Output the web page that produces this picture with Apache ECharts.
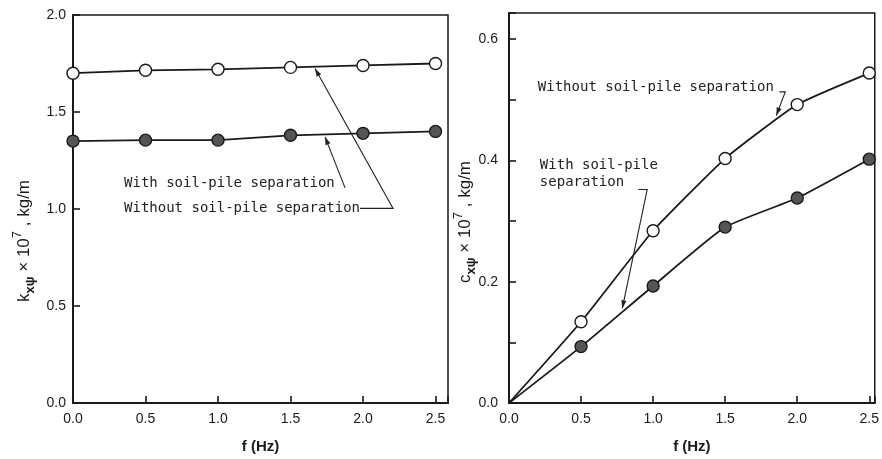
<!DOCTYPE html>
<html>
<head>
<meta charset="utf-8">
<script src="https://cdn.jsdelivr.net/npm/echarts@6/dist/echarts.min.js"></script>
<style>
  html, body { margin: 0; padding: 0; background: #fff; }
  #chart { width: 882px; height: 459px; }
</style>
</head>
<body>
<div id="chart"></div>
<script>
// Frequency (Hz) at which the impedances were evaluated
const freq = [0, 0.5, 1.0, 1.5, 2.0, 2.5];

// Cross stiffness k_xψ × 10^7 (kg/m)
const stiffWithout = [1.70, 1.715, 1.72, 1.73, 1.74, 1.75];
const stiffWith = [1.35, 1.355, 1.355, 1.38, 1.39, 1.40];

// Cross damping c_xψ × 10^7 (kg/m)
const dampWithout = [0, 0.134, 0.284, 0.403, 0.492, 0.544];
const dampWith = [0, 0.093, 0.193, 0.290, 0.338, 0.402];

const labelWith = 'With soil-pile separation';
const labelWithout = 'Without soil-pile separation';

const INK = '#1a1a1a';
const TICK_FONT = 'Liberation Sans, Arial, sans-serif';
const NOTE_FONT = '14px "DejaVu Sans Mono", monospace';

function fmtTick(step, top) {
  return function (v) {
    const k = v / step;
    if (Math.abs(k - Math.round(k)) > 1e-6 || v > top + 1e-9) return '';
    return v.toFixed(1);
  };
}

function pairs(xs, ys, hideFirst) {
  return xs.map(function (x, i) {
    const item = { value: [x, ys[i]] };
    if (hideFirst && i === 0) item.symbol = 'none';
    return item;
  });
}

const openMarker = { color: '#fff', borderColor: INK, borderWidth: 1.4 };
const filledMarker = { color: '#555', borderColor: INK, borderWidth: 1.4 };

function axisCommon() {
  return {
    axisLine: { show: true, onZero: false, lineStyle: { color: INK, width: 2 } },
    axisTick: { show: true, inside: true, length: 7, lineStyle: { color: INK, width: 1.6 } },
    splitLine: { show: false },
    axisLabel: { color: INK, fontSize: 14, fontFamily: TICK_FONT }
  };
}

const xName = {
  name: 'f (Hz)',
  nameLocation: 'middle',
  nameGap: 36,
  nameTextStyle: { color: INK, fontSize: 15, fontWeight: 'bold', fontFamily: TICK_FONT }
};

const option = {
  animation: false,
  backgroundColor: '#fff',
  grid: [
    { left: 73, right: 434, top: 15, bottom: 51, show: true, borderColor: INK, borderWidth: 1.5 },
    { left: 509, right: 5, top: 13, bottom: 54, show: true, borderColor: INK, borderWidth: 1.5 }
  ],
  xAxis: [
    Object.assign(axisCommon(), xName, {
      type: 'value', gridIndex: 0, min: 0, max: 2.586, interval: 0.5,
      axisLabel: { color: INK, fontSize: 14, fontFamily: TICK_FONT, margin: 9, formatter: fmtTick(0.5, 2.5) }
    }),
    Object.assign(axisCommon(), xName, {
      type: 'value', gridIndex: 1, min: 0, max: 2.538, interval: 0.5,
      axisLabel: { color: INK, fontSize: 14, fontFamily: TICK_FONT, margin: 9, formatter: fmtTick(0.5, 2.5) }
    })
  ],
  yAxis: [
    Object.assign(axisCommon(), {
      type: 'value', gridIndex: 0, min: 0, max: 2.0, interval: 0.5,
      axisLabel: { color: INK, fontSize: 14, fontFamily: TICK_FONT, margin: 7, formatter: fmtTick(0.5, 2.0) }
    }),
    Object.assign(axisCommon(), {
      type: 'value', gridIndex: 1, min: 0, max: 0.643, interval: 0.1,
      axisLabel: { color: INK, fontSize: 14, fontFamily: TICK_FONT, margin: 11, formatter: fmtTick(0.2, 0.6) }
    })
  ],
  series: [
    {
      name: labelWithout, type: 'line', xAxisIndex: 0, yAxisIndex: 0,
      data: pairs(freq, stiffWithout, false),
      symbol: 'circle', symbolSize: 12, z: 3,
      lineStyle: { color: INK, width: 1.8 }, itemStyle: openMarker
    },
    {
      name: labelWith, type: 'line', xAxisIndex: 0, yAxisIndex: 0,
      data: pairs(freq, stiffWith, false),
      symbol: 'circle', symbolSize: 12, z: 3,
      lineStyle: { color: INK, width: 1.8 }, itemStyle: filledMarker
    },
    {
      name: labelWithout, type: 'line', xAxisIndex: 1, yAxisIndex: 1,
      data: pairs(freq, dampWithout, true),
      symbol: 'circle', symbolSize: 12, z: 3, smooth: 0.15,
      lineStyle: { color: INK, width: 1.8 }, itemStyle: openMarker
    },
    {
      name: labelWith, type: 'line', xAxisIndex: 1, yAxisIndex: 1,
      data: pairs(freq, dampWith, true),
      symbol: 'circle', symbolSize: 12, z: 3, smooth: 0.15,
      lineStyle: { color: INK, width: 1.8 }, itemStyle: filledMarker
    }
  ]
};

const chart = echarts.init(document.getElementById('chart'), null, { renderer: 'canvas' });
chart.setOption(option);

// Annotation labels and leader arrows, placed in each panel's data space
const notes = [
  { grid: 0, text: labelWith, at: [0.352, 1.13] },
  { grid: 0, text: labelWithout, at: [0.352, 1.003] },
  { grid: 1, text: labelWithout, at: [0.20, 0.52] },
  { grid: 1, text: 'With soil-pile', at: [0.214, 0.392] },
  { grid: 1, text: 'separation', at: [0.214, 0.364] }
];

const leaders = [
  { grid: 0, path: [[1.876, 1.109], [1.738, 1.372]] },
  { grid: 0, path: [[1.979, 1.003], [2.207, 1.003], [1.669, 1.724]] },
  { grid: 1, path: [[1.876, 0.513], [1.917, 0.513], [1.855, 0.474]] },
  { grid: 1, path: [[0.897, 0.352], [0.959, 0.352], [0.786, 0.156]] }
];

function px(grid, p) {
  return chart.convertToPixel({ gridIndex: grid }, p);
}

const graphics = [];

notes.forEach(function (n) {
  const p = px(n.grid, n.at);
  graphics.push({
    type: 'text', z: 10,
    style: { x: p[0], y: p[1], text: n.text, font: NOTE_FONT, fill: '#222', verticalAlign: 'middle' }
  });
});

leaders.forEach(function (l) {
  const pts = l.path.map(function (p) { return px(l.grid, p); });
  graphics.push({
    type: 'polyline', z: 10,
    shape: { points: pts },
    style: { stroke: '#222', lineWidth: 1.1, fill: null }
  });
  const a = pts[pts.length - 2], b = pts[pts.length - 1];
  const ang = Math.atan2(b[1] - a[1], b[0] - a[0]);
  const len = 8, half = 2.6;
  const bx = b[0] - len * Math.cos(ang), by = b[1] - len * Math.sin(ang);
  graphics.push({
    type: 'polygon', z: 10,
    shape: {
      points: [
        b,
        [bx + half * Math.sin(ang), by - half * Math.cos(ang)],
        [bx - half * Math.sin(ang), by + half * Math.cos(ang)]
      ]
    },
    style: { fill: '#222' }
  });
});

// Vertical axis titles with subscripts and exponent
const titleRich = {
  b: { fontSize: 17, fontFamily: TICK_FONT, fill: INK, verticalAlign: 'middle', lineHeight: 26 },
  s: { fontSize: 13, fontFamily: TICK_FONT, fill: INK, verticalAlign: 'bottom', lineHeight: 26, fontWeight: 'bold' },
  p: { fontSize: 13, fontFamily: TICK_FONT, fill: INK, verticalAlign: 'top', lineHeight: 26 }
};

function yTitle(letter, cx, cy) {
  return {
    type: 'text', z: 10, x: cx, y: cy, rotation: Math.PI / 2,
    style: {
      text: '{b|' + letter + '}{s|xψ}{b| × 10}{p|7}{b| , kg/m}',
      rich: titleRich, align: 'center', verticalAlign: 'middle'
    }
  };
}

graphics.push(yTitle('k', 24, 241));
graphics.push(yTitle('c', 465, 222));

chart.setOption({ graphic: graphics });
</script>
</body>
</html>
